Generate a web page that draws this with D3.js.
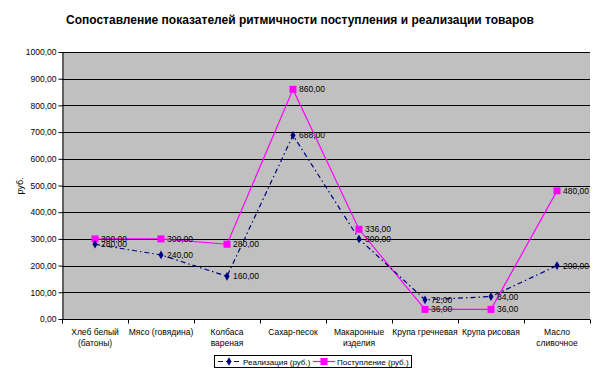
<!DOCTYPE html>
<html>
<head>
<meta charset="utf-8">
<script src="https://cdn.jsdelivr.net/npm/d3@7"></script>
<style>
  body { margin: 0; background: #fff; }
  text { font-family: "Liberation Sans", Arial, sans-serif; fill: #000; }
</style>
</head>
<body>
<div id="chart"></div>
<script>
// categories and series
var categories = [
  ["Хлеб белый", "(батоны)"],
  ["Мясо (говядина)"],
  ["Колбаса", "вареная"],
  ["Сахар-песок"],
  ["Макаронные", "изделия"],
  ["Крупа гречневая"],
  ["Крупа рисовая"],
  ["Масло", "сливочное"]
];
var sales = [280, 240, 160, 688, 300, 72, 84, 200];
var supply = [300, 300, 280, 860, 336, 36, 36, 480];
var yTicks = [0, 100, 200, 300, 400, 500, 600, 700, 800, 900, 1000];

var svgWidth = 601, svgHeight = 374;
var plot = {left: 62, right: 590, top: 52, bottom: 319};

var svg = d3.select("#chart").append("svg")
  .attr("width", svgWidth)
  .attr("height", svgHeight);

var fmt = function(v) { return v.toFixed(2).replace(".", ","); };

var x = d3.scaleBand()
  .domain(d3.range(categories.length))
  .range([plot.left, plot.right]);
var y = d3.scaleLinear().domain([0, 1000]).range([plot.bottom, plot.top]);

// title
svg.append("text")
  .attr("x", 300).attr("y", 24)
  .attr("text-anchor", "middle")
  .style("font-size", "12px").style("font-weight", "bold")
  .text("Сопоставление показателей ритмичности поступления и реализации товаров");

// plot background
svg.append("rect")
  .attr("x", plot.left).attr("y", plot.top)
  .attr("width", plot.right - plot.left).attr("height", plot.bottom - plot.top)
  .attr("fill", "#c0c0c0");

// gridlines
svg.append("g").selectAll("line")
  .data(yTicks.slice(1))
  .enter().append("line")
  .attr("x1", plot.left).attr("x2", plot.right)
  .attr("y1", d => Math.round(y(d)) + 0.5).attr("y2", d => Math.round(y(d)) + 0.5)
  .attr("stroke", "#000");

// y axis
var yAxis = svg.append("g")
  .attr("transform", `translate(${plot.left + 0.5},0)`)
  .call(d3.axisLeft(y).tickValues(yTicks).tickSize(4).tickSizeOuter(0).tickFormat(fmt));
yAxis.select(".domain").attr("stroke", "#000");
yAxis.selectAll("text").style("font-size", "8.5px").attr("x", -6).attr("fill", "#000");

// x axis
var xAxis = svg.append("g")
  .attr("transform", `translate(0,${plot.bottom + 0.5})`);
xAxis.append("line")
  .attr("x1", plot.left).attr("x2", plot.right)
  .attr("stroke", "#000");
xAxis.selectAll(".tk")
  .data(d3.range(categories.length + 1))
  .enter().append("line")
  .attr("x1", d => Math.round(plot.left + d * x.bandwidth()) + 0.5)
  .attr("x2", d => Math.round(plot.left + d * x.bandwidth()) + 0.5)
  .attr("y1", 0).attr("y2", 4)
  .attr("stroke", "#000");
categories.forEach(function(lines, i) {
  var t = xAxis.append("text")
    .attr("x", x(i) + x.bandwidth() / 2)
    .attr("y", 15)
    .attr("text-anchor", "middle")
    .style("font-size", "8.5px");
  lines.forEach(function(l, j) {
    t.append("tspan").attr("x", x(i) + x.bandwidth() / 2).attr("dy", j ? 11 : 0).text(l);
  });
});

// y axis label
svg.append("text")
  .attr("transform", "translate(23,186) rotate(-90)")
  .attr("text-anchor", "middle")
  .style("font-size", "9px")
  .text("руб.");

var cx = i => x(i) + x.bandwidth() / 2;
var line = d3.line().x((d, i) => cx(i)).y(d => y(d));

// Поступление
svg.append("path")
  .datum(supply)
  .attr("d", line)
  .attr("fill", "none")
  .attr("stroke", "#ff00ff")
  .attr("stroke-width", 1.2);

// Реализация
svg.append("path")
  .datum(sales)
  .attr("d", line)
  .attr("fill", "none")
  .attr("stroke", "#000080")
  .attr("stroke-width", 1.2)
  .attr("stroke-dasharray", "5,3,1.5,3");

var diamond = d3.symbol().type(d3.symbolDiamond).size(22);

svg.append("g").selectAll("rect")
  .data(supply)
  .enter().append("rect")
  .attr("x", (d, i) => cx(i) - 3.5).attr("y", d => y(d) - 3.5)
  .attr("width", 7).attr("height", 7)
  .attr("fill", "#ff00ff");

svg.append("g").selectAll("path")
  .data(sales)
  .enter().append("path")
  .attr("d", diamond)
  .attr("transform", (d, i) => `translate(${cx(i)},${y(d)})`)
  .attr("fill", "#000080");

// data labels
[supply, sales].forEach(function(series) {
  svg.append("g").selectAll("text")
    .data(series)
    .enter().append("text")
    .attr("x", (d, i) => cx(i) + 6)
    .attr("y", d => y(d) + 3)
    .style("font-size", "8.5px")
    .text(fmt);
});

// legend
var legend = svg.append("g");
legend.append("rect")
  .attr("x", 214.5).attr("y", 355.5)
  .attr("width", 197).attr("height", 12)
  .attr("fill", "#fff").attr("stroke", "#000");
legend.append("line")
  .attr("x1", 218).attr("x2", 240).attr("y1", 361.5).attr("y2", 361.5)
  .attr("stroke", "#000080").attr("stroke-width", 1.2).attr("stroke-dasharray", "5,3");
legend.append("path").attr("d", diamond).attr("transform", "translate(229,361.5)").attr("fill", "#000080");
legend.append("text").attr("x", 243).attr("y", 365).style("font-size", "8px").text("Реализация (руб.)");
legend.append("line")
  .attr("x1", 313).attr("x2", 335).attr("y1", 361.5).attr("y2", 361.5)
  .attr("stroke", "#ff00ff").attr("stroke-width", 1.2);
legend.append("rect").attr("x", 320.5).attr("y", 358).attr("width", 7).attr("height", 7).attr("fill", "#ff00ff");
legend.append("text").attr("x", 337).attr("y", 365).style("font-size", "8px").text("Поступление (руб.)");
</script>
</body>
</html>
